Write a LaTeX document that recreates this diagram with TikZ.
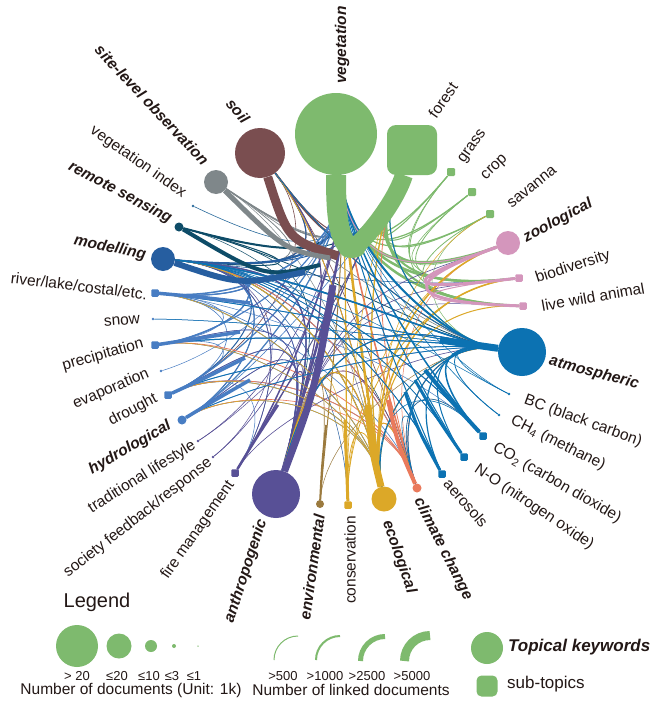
\documentclass[tikz,border=0pt]{standalone}
\usepackage{fontspec}
\setmainfont{Liberation Sans}
\usetikzlibrary{calc}
\definecolor{txt}{RGB}{35,24,22}
\definecolor{col-veg}{RGB}{126,186,110}
\colorlet{col-forest}{col-veg}
\colorlet{col-grass}{col-veg}
\colorlet{col-crop}{col-veg}
\colorlet{col-sav}{col-veg}
\definecolor{col-zoo}{RGB}{212,150,188}
\colorlet{col-biod}{col-zoo}
\colorlet{col-live}{col-zoo}
\definecolor{col-atmo}{RGB}{12,114,178}
\colorlet{col-bc}{col-atmo}
\colorlet{col-ch4}{col-atmo}
\colorlet{col-co2}{col-atmo}
\colorlet{col-no}{col-atmo}
\colorlet{col-aero}{col-atmo}
\definecolor{col-cc}{RGB}{234,122,92}
\definecolor{col-eco}{RGB}{220,168,40}
\colorlet{col-cons}{col-eco}
\definecolor{col-env}{RGB}{155,122,62}
\definecolor{col-anth}{RGB}{88,80,150}
\colorlet{col-fire}{col-anth}
\colorlet{col-soc}{col-anth}
\colorlet{col-trad}{col-anth}
\definecolor{col-hydro}{RGB}{72,125,195}
\colorlet{col-drought}{col-hydro}
\colorlet{col-evap}{col-hydro}
\colorlet{col-precip}{col-hydro}
\colorlet{col-snow}{col-hydro}
\colorlet{col-river}{col-hydro}
\definecolor{col-model}{RGB}{38,94,160}
\definecolor{col-remote}{RGB}{14,76,104}
\definecolor{col-vindex}{RGB}{40,105,155}
\definecolor{col-site}{RGB}{127,135,138}
\definecolor{col-soil}{RGB}{122,78,80}
\pgfdeclarelayer{paper}
\pgfdeclarelayer{edges}
\pgfdeclarelayer{stems}
\pgfsetlayers{paper,edges,stems,main}
\tikzset{
  tnode/.style={circle, inner sep=0pt, minimum size=#1},
  snode/.style={rectangle, rounded corners=1.2pt, inner sep=0pt, minimum size=7.5pt},
  dnode/.style={circle, inner sep=0pt, minimum size=2.6pt},
  labn/.style={text=txt, font=\fontsize{15.5}{18}\selectfont, inner sep=0pt},
  blabn/.style={text=txt, font=\fontsize{15.5}{18}\selectfont\bfseries\itshape, inner sep=0pt},
  legn/.style={text=txt, font=\fontsize{13}{15}\selectfont, inner sep=0pt},
}
\begin{document}
\begin{tikzpicture}[x=1pt,y=-1pt]
\useasboundingbox (0,0) rectangle (654,701);
\begin{pgfonlayer}{paper}
\fill[white] (0,0) rectangle (654,701);
\end{pgfonlayer}
% ---------- nodes ----------
\node[tnode=82pt, fill=col-veg] (veg) at (336,134) {};
\node[rectangle, rounded corners=9pt, minimum size=50pt, inner sep=0pt, fill=col-veg] (forest) at (412,150) {};
\node[snode, minimum size=8pt, fill=col-veg] (grass) at (451,172) {};
\node[snode, minimum size=8pt, fill=col-veg] (crop) at (472,192) {};
\node[snode, minimum size=8pt, fill=col-veg] (sav) at (490,214) {};
\node[tnode=24pt, fill=col-zoo] (zoo) at (508,243) {};
\node[snode, fill=col-zoo] (biod) at (519,278) {};
\node[snode, fill=col-zoo] (live) at (523,306) {};
\node[tnode=48pt, fill=col-atmo] (atmo) at (522,352) {};
\node[dnode, fill=col-atmo] (bc) at (509,394) {};
\node[dnode, fill=col-atmo] (ch4) at (499,415) {};
\node[snode, fill=col-atmo] (co2) at (483,436) {};
\node[snode, fill=col-atmo] (no) at (464,457) {};
\node[snode, fill=col-atmo] (aero) at (442,474) {};
\node[tnode=9pt, fill=col-cc] (cc) at (417,488) {};
\node[tnode=25pt, fill=col-eco] (eco) at (384,499) {};
\node[snode, fill=col-eco] (cons) at (348,505) {};
\node[tnode=8pt, fill=col-env] (env) at (320,504) {};
\node[tnode=48pt, fill=col-anth] (anth) at (276,494) {};
\node[snode, fill=col-anth] (fire) at (235,473) {};
\node[dnode, fill=col-anth] (soc) at (213,457) {};
\node[dnode, fill=col-anth] (trad) at (198,441) {};
\node[tnode=9pt, fill=col-hydro] (hydro) at (182,420) {};
\node[snode, fill=col-hydro] (drought) at (168,395) {};
\node[dnode, fill=col-hydro] (evap) at (161,371) {};
\node[snode, fill=col-hydro] (precip) at (155,345) {};
\node[dnode, fill=col-hydro] (snow) at (153,319) {};
\node[snode, fill=col-hydro] (river) at (155,293) {};
\node[tnode=24pt, fill=col-model] (model) at (163,259) {};
\node[tnode=9pt, fill=col-remote] (remote) at (179,227) {};
\node[dnode, fill=col-vindex] (vindex) at (193,206) {};
\node[tnode=24pt, fill=col-site] (site) at (216,182) {};
\node[tnode=50pt, fill=col-soil] (soil) at (260,153) {};
% ---------- ports near the hub ----------
\coordinate (veg-p) at (348,252);
\coordinate (forest-p) at (362,254);
\coordinate (grass-p) at (378,258);
\coordinate (crop-p) at (384,262);
\coordinate (sav-p) at (390,268);
\coordinate (zoo-p) at (395,284);
\coordinate (biod-p) at (402,292);
\coordinate (live-p) at (405,302);
\coordinate (atmo-p) at (440,340);
\coordinate (bc-p) at (445,362);
\coordinate (ch4-p) at (440,370);
\coordinate (co2-p) at (425,370);
\coordinate (no-p) at (415,380);
\coordinate (aero-p) at (405,392);
\coordinate (cc-p) at (388,400);
\coordinate (eco-p) at (368,405);
\coordinate (cons-p) at (345,420);
\coordinate (env-p) at (326,425);
\coordinate (anth-p) at (333,285);
\coordinate (fire-p) at (278,405);
\coordinate (soc-p) at (290,395);
\coordinate (trad-p) at (285,385);
\coordinate (hydro-p) at (250,380);
\coordinate (drought-p) at (245,358);
\coordinate (evap-p) at (245,345);
\coordinate (precip-p) at (240,332);
\coordinate (snow-p) at (245,320);
\coordinate (river-p) at (250,303);
\coordinate (model-p) at (305,272);
\coordinate (remote-p) at (320,265);
\coordinate (vindex-p) at (310,262);
\coordinate (site-p) at (330,258);
\coordinate (soil-p) at (338,256);
\coordinate (hub) at (352,250);
% ---------- thin links ----------
\begin{pgfonlayer}{edges}
\foreach \s/\t/\w in {
 veg/grass/1.2, veg/crop/1.2, veg/sav/1.2, veg/zoo/3, veg/biod/2.5, veg/live/2.5, veg/atmo/1.5, veg/eco/1, veg/anth/1, veg/model/1, veg/soil/1, veg/cc/0.8, veg/co2/0.6, veg/drought/0.6, veg/river/0.6, veg/hydro/0.6,
 forest/grass/1, forest/crop/1, forest/sav/1, forest/zoo/2, forest/biod/2, forest/live/2, forest/atmo/1, forest/eco/0.8, forest/fire/0.6, forest/anth/0.6,
 grass/live/0.8, grass/biod/0.6, crop/biod/0.8, crop/zoo/0.6, sav/live/0.8, sav/atmo/0.5,
 soil/veg/2, soil/model/1, soil/atmo/1, soil/anth/0.8, soil/eco/0.8, soil/cc/0.6, soil/drought/0.6, soil/forest/1,
 site/veg/1.5, site/model/0.8, site/atmo/0.6, site/eco/0.5, site/forest/0.8,
 remote/veg/2, remote/model/1, remote/atmo/0.8, remote/anth/0.6, remote/cc/0.5, remote/forest/1,
 vindex/veg/0.6,
 model/veg/2, model/atmo/1.5, model/anth/1.2, model/eco/1, model/hydro/1, model/drought/1, model/precip/1, model/river/1, model/cc/0.8, model/co2/0.8, model/aero/0.6, model/soil/1, model/biod/0.6, model/fire/0.6, model/cons/0.5, model/no/0.5, model/forest/1,
 river/veg/1.5, river/model/1.2, river/atmo/0.8, river/eco/0.8, river/anth/0.8, river/cc/0.6, river/co2/0.5, river/drought/0.6,
 precip/veg/1.2, precip/atmo/1, precip/model/1, precip/anth/0.6, precip/eco/0.6, precip/river/0.6,
 drought/veg/1.2, drought/atmo/0.8, drought/anth/0.8, drought/eco/0.8, drought/cc/0.6, drought/fire/0.5, drought/precip/0.6,
 hydro/veg/1.2, hydro/model/0.8, hydro/atmo/0.8, hydro/anth/0.6, hydro/eco/0.6, hydro/forest/0.6,
 evap/veg/0.5, snow/atmo/0.5,
 cc/veg/1.5, cc/atmo/1, cc/precip/0.8, cc/drought/0.8, cc/hydro/0.6, cc/model/0.8, cc/eco/0.8, cc/anth/0.6, cc/zoo/0.5, cc/co2/0.5, cc/forest/0.8,
 anth/veg/2.5, anth/soil/1, anth/model/1.2, anth/fire/1, anth/eco/1, anth/atmo/1, anth/zoo/0.6, anth/biod/0.6, anth/cc/0.6, anth/hydro/0.6, anth/precip/0.5, anth/river/0.5, anth/drought/0.6, anth/live/0.5, anth/forest/1,
 trad/veg/0.6, trad/anth/0.5, soc/veg/0.6, soc/model/0.5,
 fire/veg/1.5, fire/atmo/0.6, fire/model/0.6, fire/forest/0.8,
 env/veg/1, env/anth/0.6, env/atmo/0.5,
 eco/veg/2.5, eco/zoo/1.5, eco/biod/1.5, eco/live/1, eco/atmo/1, eco/anth/1, eco/model/1, eco/cc/0.8, eco/cons/0.8, eco/soil/0.8, eco/hydro/0.6, eco/drought/0.6, eco/precip/0.5, eco/river/0.6, eco/forest/1.2, eco/sav/0.5,
 cons/veg/1.2, cons/zoo/0.6, cons/biod/0.8, cons/anth/0.5, cons/forest/0.6,
 atmo/veg/2, atmo/model/1.5, atmo/co2/1.5, atmo/no/1, atmo/aero/1.2, atmo/ch4/0.8, atmo/bc/0.6, atmo/precip/1, atmo/river/0.8, atmo/drought/0.8, atmo/anth/1, atmo/eco/1, atmo/cc/1, atmo/soil/0.8, atmo/hydro/0.6, atmo/snow/0.5, atmo/forest/1,
 co2/veg/1.5, co2/model/0.8, co2/eco/0.6, co2/cc/0.6,
 no/veg/1, no/model/0.6, aero/veg/1, aero/model/0.8, aero/cc/0.6,
 ch4/veg/0.6, bc/veg/0.5, bc/model/0.5,
 zoo/biod/3, zoo/live/3, zoo/veg/1, biod/live/1}
 \draw[line width=\w, col-\s] (\s) .. controls (\s-p) and (\t-p) .. (\t);
\end{pgfonlayer}
% ---------- stems ----------
\begin{pgfonlayer}{stems}
\fill[col-veg] (hub) ellipse[x radius=13, y radius=8];
\draw[line width=20, col-veg] (veg) .. controls (336,215) and (338,240) .. (hub);
\draw[line width=18, col-veg] (forest) .. controls (396,200) and (372,232) .. (hub);
\draw[line width=9, col-soil] (soil) .. controls (288,240) .. (soil-p);
\draw[line width=5, col-site] (site) .. controls (285,250) .. (site-p);
\draw[line width=4, col-remote] (remote) .. controls (265,278) .. (remote-p);
\draw[line width=6, col-model] (model) .. controls (240,285) .. (model-p);
\draw[line width=3.5, col-river] (river) .. controls (200,297) .. (river-p);
\draw[line width=3.5, col-precip] (precip) .. controls (200,338) .. (precip-p);
\draw[line width=3.5, col-drought] (drought) .. controls (205,378) .. (drought-p);
\draw[line width=3.5, col-hydro] (hydro) .. controls (215,400) .. (hydro-p);
\draw[line width=2.5, col-fire] (fire) .. controls (255,440) .. (fire-p);
\draw[line width=7, col-anth] (anth) .. controls (315,390) .. (anth-p);
\draw[line width=2, col-env] (env) .. controls (322,465) .. (env-p);
\draw[line width=3, col-cons] (cons) .. controls (346,460) .. (cons-p);
\draw[line width=7, col-eco] (eco) .. controls (372,450) .. (eco-p);
\draw[line width=4, col-cc] (cc) .. controls (398,445) .. (cc-p);
\draw[line width=3, col-aero] (aero) .. controls (418,430) .. (aero-p);
\draw[line width=3, col-no] (no) .. controls (435,415) .. (no-p);
\draw[line width=4, col-co2] (co2) .. controls (450,400) .. (co2-p);
\draw[line width=7, col-atmo] (atmo) .. controls (470,344) .. (atmo-p);
\end{pgfonlayer}
% ---------- labels ----------
\node[blabn, rotate=90] (l-veg) at (342,45) {vegetation};
\node[labn, rotate=55] (l-forest) at (443,100) {forest};
\node[labn, rotate=55] (l-grass) at (473,147) {grass};
\node[labn, rotate=44] (l-crop) at (495,168) {crop};
\node[labn, rotate=39] (l-sav) at (532,187) {savanna};
\node[blabn, rotate=28] (l-zoo) at (558,221) {zoological};
\node[labn, rotate=18] (l-biod) at (573,267) {biodiversity};
\node[labn, rotate=10] (l-live) at (593,297) {live wild animal};
\node[blabn, rotate=-15] (l-atmo) at (594,373) {atmospheric};
\node[labn, rotate=-20] (l-bc) at (583,421) {BC (black carbon)};
\node[labn, rotate=-27] (l-ch4) at (558,443) {CH\textsubscript{4} (methane)};
\node[labn, rotate=-30] (l-co2) at (557,483) {CO\textsubscript{2} (carbon dioxide)};
\node[labn, rotate=-34] (l-no) at (534,507) {N-O (nitrogen oxide)};
\node[labn, rotate=-49] (l-aero) at (466,503) {aerosols};
\node[blabn, rotate=-63] (l-cc) at (443,549) {climate change};
\node[blabn, rotate=-71] (l-eco) at (399,557) {ecological};
\node[labn, rotate=90] (l-cons) at (350,560) {conservation};
\node[blabn, rotate=82] (l-env) at (312,567) {environmental};
\node[blabn, rotate=72] (l-anth) at (246,571) {anthropogenic};
\node[labn, rotate=55] (l-fire) at (198,530) {fire management};
\node[labn, rotate=38] (l-soc) at (138,518) {society feedback/response};
\node[labn, rotate=32] (l-trad) at (142,477) {traditional lifestyle};
\node[blabn, rotate=30] (l-hydro) at (130,448) {hydrological};
\node[labn, rotate=28] (l-drought) at (133,410) {drought};
\node[labn, rotate=23] (l-evap) at (111,389) {evaporation};
\node[labn, rotate=16] (l-precip) at (103,355) {precipitation};
\node[labn, rotate=5] (l-snow) at (122,321) {snow};
\node[labn, rotate=-7] (l-river) at (79,286) {river/lake/costal/etc.};
\node[blabn, rotate=-12] (l-model) at (110,248) {modelling};
\node[blabn, rotate=-28] (l-remote) at (120,193) {remote sensing};
\node[labn, rotate=-35] (l-vindex) at (138,162) {vegetation index};
\node[blabn, rotate=-47] (l-site) at (152,105) {site-level observation};
\node[blabn, rotate=-50] (l-soil) at (238,111) {soil};
% ---------- legend ----------
\node[text=txt, font=\fontsize{20}{24}\selectfont, inner sep=0pt] (lg-title) at (97,602) {Legend};
\node[tnode=42pt, fill=col-veg] (lg-c1) at (77,646) {};
\node[tnode=25pt, fill=col-veg] (lg-c2) at (119,646) {};
\node[tnode=12pt, fill=col-veg] (lg-c3) at (151,646) {};
\node[tnode=4pt, fill=col-veg] (lg-c4) at (174,646) {};
\node[tnode=1.5pt, fill=col-veg] (lg-c5) at (198,646) {};
\node[legn] (lg-t1) at (77,676) {> 20};
\node[legn] (lg-t2) at (117,676) {≤20};
\node[legn] (lg-t3) at (149,676) {≤10};
\node[legn] (lg-t4) at (172,676) {≤3};
\node[legn] (lg-t5) at (194,676) {≤1};
\node[labn] (lg-docs) at (131,690) {Number of documents (Unit: 1k)};
\draw[col-veg, line width=1] (274,660) arc[start angle=180, end angle=270, radius=24];
\draw[col-veg, line width=2] (316,660) arc[start angle=180, end angle=270, radius=24];
\draw[col-veg, line width=5] (360.5,661) arc[start angle=180, end angle=270, radius=24.5];
\draw[col-veg, line width=9] (404.5,661) arc[start angle=180, end angle=270, radius=25.5];
\node[legn] (lg-a1) at (283,676) {>500};
\node[legn] (lg-a2) at (325,676) {>1000};
\node[legn] (lg-a3) at (367,676) {>2500};
\node[legn] (lg-a4) at (412,676) {>5000};
\node[labn] (lg-links) at (351,690) {Number of linked documents};
\node[tnode=32pt, fill=col-veg] (lg-topic) at (487,648) {};
\node[text=txt, font=\fontsize{17}{20}\selectfont\bfseries\itshape, inner sep=0pt, anchor=west] (lg-topic-t) at (508,647) {Topical keywords};
\node[rectangle, rounded corners=5pt, minimum size=21pt, inner sep=0pt, fill=col-veg] (lg-sub) at (487,686) {};
\node[text=txt, font=\fontsize{17}{20}\selectfont, inner sep=0pt, anchor=west] (lg-sub-t) at (507,684) {sub-topics};
\end{tikzpicture}
\end{document}
